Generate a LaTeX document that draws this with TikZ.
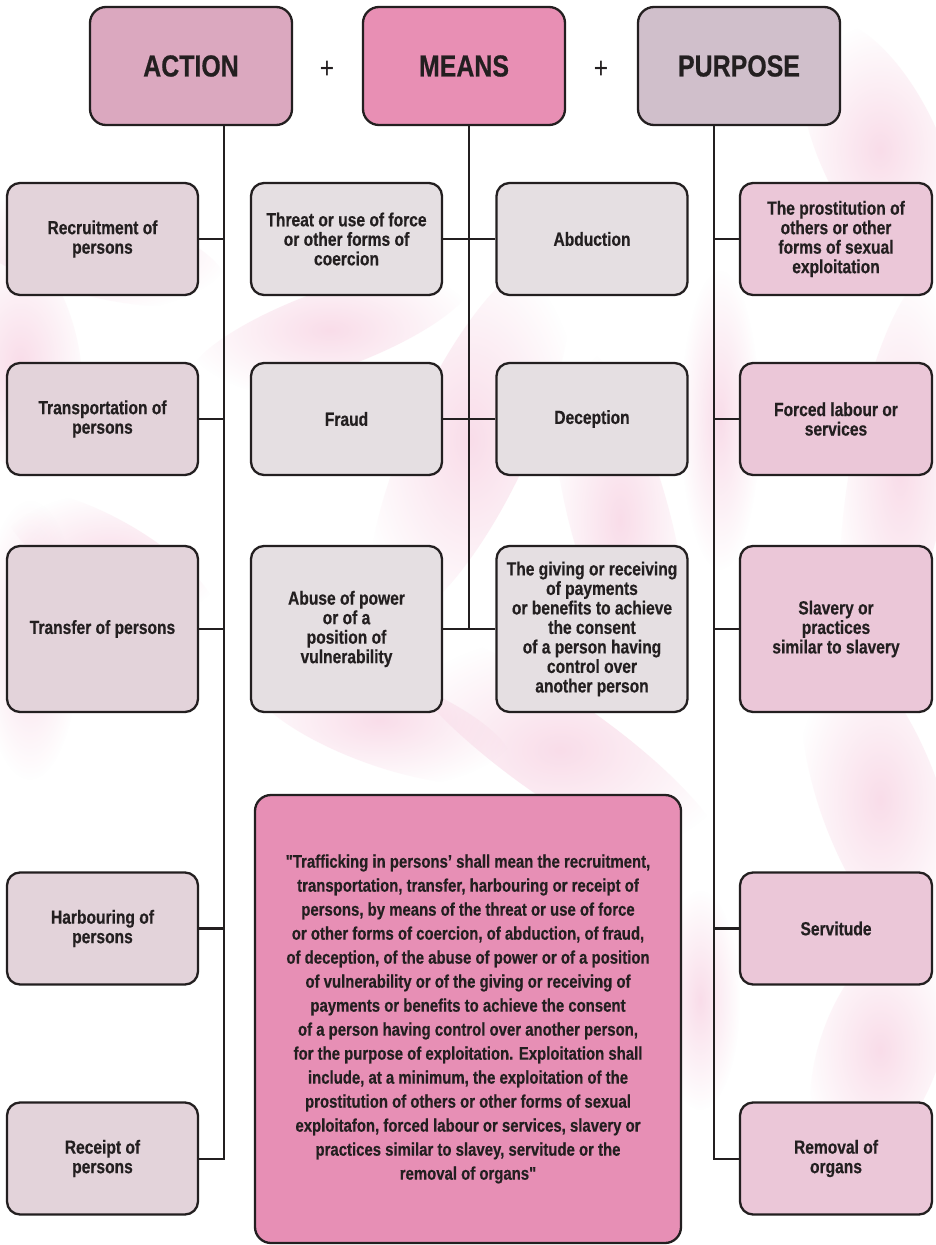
\documentclass[tikz,border=0pt]{standalone}
\usepackage{fontspec}
\setmainfont{Liberation Sans}[FakeStretch=0.82, BoldFeatures={FakeBold=0.5}]
\newfontfamily\rawquote{Liberation Sans}[Ligatures=TeXOff, FakeStretch=0.82, BoldFeatures={FakeBold=0.5}]
\newcommand{\dq}{{\rawquote\symbol{34}}}
\usetikzlibrary{fadings}
\definecolor{ink}{HTML}{231F20}
\definecolor{hAction}{HTML}{DBA8BF}
\definecolor{hMeans}{HTML}{E88FB4}
\definecolor{hPurpose}{HTML}{D0BFCB}
\definecolor{cAction}{HTML}{E3D3DA}
\definecolor{cMeans}{HTML}{E5DFE2}
\definecolor{cPurpose}{HTML}{EBC7D8}
\definecolor{bigbox}{HTML}{E78FB5}
\definecolor{smudge}{HTML}{F2B3CF}
\tikzfading[name=fuzz, inner color=transparent!0, outer color=transparent!100]
\tikzset{
  box/.style={draw=ink, line width=2.3pt, rounded corners=13pt, align=center,
    text=ink, font=\bfseries\fontsize{19}{19.5}\selectfont, inner sep=4pt},
  head/.style={box, minimum width=202pt, minimum height=118pt, rounded corners=16pt,
    font=\bfseries\fontsize{30.4}{32}\selectfont},
  abox/.style={box, fill=cAction, minimum width=191pt},
  mbox/.style={box, fill=cMeans, minimum width=191pt},
  pbox/.style={box, fill=cPurpose, minimum width=192pt},
  rowA/.style={minimum height=112pt},
  rowB/.style={minimum height=166pt},
  link/.style={draw=ink, line width=2.3pt},
  stem/.style={draw=ink, line width=2pt},
  plus/.style={text=ink, font=\fontsize{30}{30}\selectfont},
  blob/.style={fill=smudge, path fading=fuzz, opacity=0.45}
}
\begin{document}
\begin{tikzpicture}[x=1pt,y=-1pt]
\useasboundingbox (0,0) rectangle (935,1245);
\fill[white] (0,0) rectangle (935,1245);
% background smudges
\begin{scope}
\fill[blob] (90,250) ellipse [x radius=140, y radius=45, rotate=-15];
\fill[blob] (20,360) ellipse [x radius=60, y radius=120, rotate=10];
\fill[blob] (30,640) ellipse [x radius=50, y radius=140];
\fill[blob] (110,560) ellipse [x radius=120, y radius=40, rotate=-30];
\fill[blob] (330,330) ellipse [x radius=150, y radius=40, rotate=20];
\fill[blob] (470,440) ellipse [x radius=60, y radius=200, rotate=-25];
\fill[blob] (560,750) ellipse [x radius=200, y radius=50, rotate=-35];
\fill[blob] (380,720) ellipse [x radius=140, y radius=45, rotate=-20];
\fill[blob] (620,520) ellipse [x radius=50, y radius=180, rotate=15];
\fill[blob] (880,150) ellipse [x radius=60, y radius=140, rotate=25];
\fill[blob] (900,470) ellipse [x radius=50, y radius=200, rotate=-10];
\fill[blob] (880,800) ellipse [x radius=60, y radius=160, rotate=20];
\fill[blob] (720,420) ellipse [x radius=40, y radius=150];
\fill[blob] (880,1050) ellipse [x radius=60, y radius=120, rotate=-20];
\fill[blob] (700,1000) ellipse [x radius=40, y radius=110];
\end{scope}
% headers
\node[head, fill=hAction] (act) at (191,66) {ACTION};
\node[head, fill=hMeans] (mea) at (464,66) {MEANS};
\node[head, fill=hPurpose] (pur) at (739,66) {PURPOSE};
\node[plus] (p1) at (327,70) {+};
\node[plus] (p2) at (601,70) {+};
% stems
\coordinate (as) at (224,125);
\coordinate (ms) at (469,125);
\coordinate (ps) at (714,125);
% action column
\node[abox, rowA] (a1) at (102.5,239) {Recruitment of\\persons};
\node[abox, rowA] (a2) at (102.5,419) {Transportation of\\persons};
\node[abox, rowB] (a3) at (102.5,629) {Transfer of persons};
\node[abox, rowA] (a4) at (102.5,928.5) {Harbouring of\\persons};
\node[abox, rowA] (a5) at (102.5,1158.5) {Receipt of\\persons};
% means columns
\node[mbox, rowA] (m1) at (346.5,239) {Threat or use of force\\or other forms of\\coercion};
\node[mbox, rowA] (n1) at (592,239) {Abduction};
\node[mbox, rowA] (m2) at (346.5,419) {Fraud};
\node[mbox, rowA] (n2) at (592,419) {Deception};
\node[mbox, rowB] (m3) at (346.5,629) {Abuse of power\\or of a\\position of\\vulnerability};
\node[mbox, rowB] (n3) at (592,629) {The giving or receiving\\of payments\\or benefits to achieve\\the consent\\of a person having\\control over\\another person};
% purpose column
\node[pbox, rowA] (q1) at (836,239) {The prostitution of\\others or other\\forms of sexual\\exploitation};
\node[pbox, rowA] (q2) at (836,419) {Forced labour or\\services};
\node[pbox, rowB] (q3) at (836,629) {Slavery or\\practices\\similar to slavery};
\node[pbox, rowA] (q4) at (836,928.5) {Servitude};
\node[pbox, rowA] (q5) at (836,1158.5) {Removal of\\organs};
% definition box
\node[box, fill=bigbox, minimum width=426pt, minimum height=448pt, rounded corners=16pt,
  font=\bfseries\fontsize{18.2}{24}\selectfont] (def) at (468,1019)
  {\dq Trafficking in persons’ shall mean the recruitment,\\
   transportation, transfer, harbouring or receipt of\\
   persons, by means of the threat or use of force\\
   or other forms of coercion, of abduction, of fraud,\\
   of deception, of the abuse of power or of a position\\
   of vulnerability or of the giving or receiving of\\
   payments or benefits to achieve the consent\\
   of a person having control over another person,\\
   for the purpose of exploitation. Exploitation shall\\
   include, at a minimum, the exploitation of the\\
   prostitution of others or other forms of sexual\\
   exploitafon, forced labour or services, slavery or\\
   practices similar to slavey, servitude or the\\
   removal of organs\dq};
% connectors
\draw[stem] (as) |- (a5.east);
\draw[link] (a1.east) -- (a1.east -| as);
\draw[link] (a2.east) -- (a2.east -| as);
\draw[link] (a3.east) -- (a3.east -| as);
\draw[link] (a4.east) -- (a4.east -| as);
\draw[stem] (ms) -- (ms |- m3.east);
\draw[link] (m1.east) -- (n1.west);
\draw[link] (m2.east) -- (n2.west);
\draw[link] (m3.east) -- (n3.west);
\draw[stem] (ps) |- (q5.west);
\draw[link] (q1.west) -- (q1.west -| ps);
\draw[link] (q2.west) -- (q2.west -| ps);
\draw[link] (q3.west) -- (q3.west -| ps);
\draw[link] (q4.west) -- (q4.west -| ps);
\end{tikzpicture}
\end{document}
